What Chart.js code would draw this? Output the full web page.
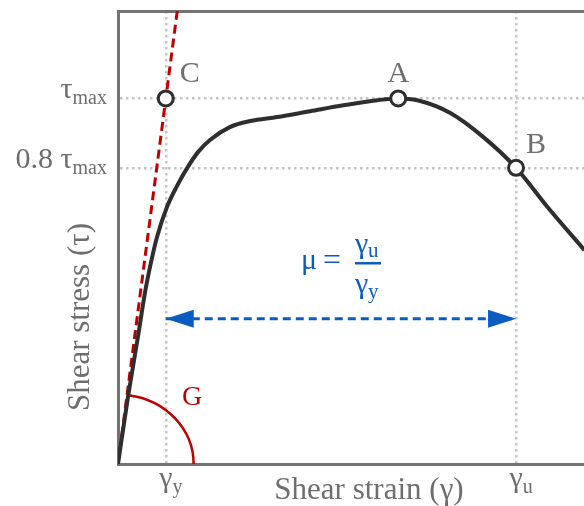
<!DOCTYPE html>
<html>
<head>
<meta charset="utf-8">
<script src="https://cdn.jsdelivr.net/npm/chart.js@4.4.1/dist/chart.umd.min.js"></script>
<style>
  html, body { margin: 0; padding: 0; background: #fff; overflow: hidden; }
  #wrap { width: 595px; height: 506px; position: relative; }
</style>
</head>
<body>
<div id="wrap"><canvas id="chart"></canvas></div>
<script>
// shear strain / shear stress curve (stress normalised to tau_max = 1)
const strain = [0, 0.25, 0.50, 0.68, 0.83, 0.98, 1.23, 1.48, 1.74, 2.01, 2.31, 2.82, 3.32, 4.00, 4.83, 5.66, 6.51, 7.04, 7.52, 8.35, 9.18, 10.0, 10.79, 11.72];
const stress = [0, 0.183, 0.347, 0.470, 0.552, 0.621, 0.703, 0.760, 0.810, 0.853, 0.886, 0.922, 0.938, 0.949, 0.965, 0.981, 0.995, 1.0, 0.995, 0.960, 0.894, 0.810, 0.703, 0.585];

// initial stiffness line (G)
const tangentStrain = [0, 1.49];
const tangentStress = [0, 1.24];

// marked points
const pointNames = ["C", "A", "B"];
const pointStrain = [1.2, 7.04, 10.0];
const pointStress = [1.0, 1.0, 0.81];

// ticks
const xTicks = [1.2, 10.0];
const xTickMain = ["γ", "γ"];
const xTickSub = ["y", "u"];
const yTicks = [0.81, 1.0];
const yTickMain = ["0.8 τ", "τ"];
const yTickSub = ["max", "max"];

// ductility arrow (gamma_y -> gamma_u)
const arrowStrain = [1.2, 10.0];
const arrowStress = [0.397, 0.397];

// G arc ends
const gArcStrain = 1.9;
const gArcStress = 0.19;

const SERIF = '"Liberation Serif", "Times New Roman", serif';
const TEXT_GRAY = "#6e6e6e";
const AXIS_GRAY = "#737373";
const GRID_GRAY = "#c4c4c4";
const RED = "#c00000";
const BLUE = "#0b5cc0";
const INK = "#2e2e2e";

const xy = (xs, ys) => xs.map((v, i) => ({ x: v, y: ys[i] }));

const drawings = {
  id: "drawings",
  beforeDatasetsDraw(chart) {
    const { ctx, scales: { x, y } } = chart;
    const ox = x.getPixelForValue(0), oy = y.getPixelForValue(0);
    const rx = x.getPixelForValue(gArcStrain) - ox;
    const ry = oy - y.getPixelForValue(gArcStress);
    ctx.save();
    ctx.strokeStyle = RED;
    ctx.lineWidth = 2.5;
    ctx.beginPath();
    ctx.ellipse(ox, oy, rx, ry, 0, -1.43, 0);
    ctx.stroke();
    ctx.restore();
  },
  afterDraw(chart) {
    const { ctx, scales: { x, y } } = chart;
    ctx.save();
    ctx.textBaseline = "alphabetic";
    ctx.fillStyle = TEXT_GRAY;

    // y tick labels
    yTicks.forEach((v, i) => {
      const py = y.getPixelForValue(v);
      ctx.textAlign = "right";
      ctx.font = `20px ${SERIF}`;
      const sw = ctx.measureText(yTickSub[i]).width;
      ctx.fillText(yTickSub[i], 107, py + 6);
      ctx.font = `30px ${SERIF}`;
      ctx.fillText(yTickMain[i], 107 - sw, py);
    });

    // x tick labels
    xTicks.forEach((v, i) => {
      const px = x.getPixelForValue(v);
      ctx.textAlign = "left";
      ctx.font = `30px ${SERIF}`;
      const mw = ctx.measureText(xTickMain[i]).width;
      ctx.fillText(xTickMain[i], px - mw / 2, 487);
      ctx.font = `20px ${SERIF}`;
      ctx.fillText(xTickSub[i], px + mw / 2, 493);
    });

    // axis titles
    ctx.font = `31px ${SERIF}`;
    ctx.textAlign = "center";
    ctx.fillText("Shear strain (γ)", 369, 499);
    ctx.save();
    ctx.translate(89, 317);
    ctx.rotate(-Math.PI / 2);
    ctx.fillText("Shear stress (τ)", 0, 0);
    ctx.restore();

    // point labels
    ctx.font = `30px ${SERIF}`;
    const offs = [[24, -16], [0, -16], [20, -15]];
    pointNames.forEach((n, i) => {
      const px = x.getPixelForValue(pointStrain[i]);
      const py = y.getPixelForValue(pointStress[i]);
      ctx.fillText(n, px + offs[i][0], py + offs[i][1]);
    });

    // G label
    ctx.fillStyle = RED;
    ctx.font = `28px ${SERIF}`;
    ctx.fillText("G", 192, 405);

    // arrow heads
    ctx.fillStyle = BLUE;
    const ay = y.getPixelForValue(arrowStress[0]);
    const ax0 = x.getPixelForValue(arrowStrain[0]);
    const ax1 = x.getPixelForValue(arrowStrain[1]);
    ctx.beginPath();
    ctx.moveTo(ax0, ay);
    ctx.lineTo(ax0 + 28, ay - 9);
    ctx.lineTo(ax0 + 28, ay + 9);
    ctx.closePath();
    ctx.fill();
    ctx.beginPath();
    ctx.moveTo(ax1, ay);
    ctx.lineTo(ax1 - 28, ay - 9);
    ctx.lineTo(ax1 - 28, ay + 9);
    ctx.closePath();
    ctx.fill();

    // ductility formula
    ctx.textAlign = "left";
    ctx.font = `30px ${SERIF}`;
    ctx.fillText("μ", 301, 269);
    ctx.font = `32px ${SERIF}`;
    ctx.fillText("=", 323, 270);
    ctx.fillRect(355, 262, 26, 2.5);
    ctx.font = `30px ${SERIF}`;
    ctx.fillText("γ", 355, 253);
    ctx.fillText("γ", 355, 293);
    ctx.font = `21px ${SERIF}`;
    ctx.fillText("u", 368, 257);
    ctx.fillText("y", 368, 298);

    ctx.restore();
  }
};

new Chart(document.getElementById("chart"), {
  type: "line",
  data: {
    datasets: [
      {
        label: "points",
        data: xy(pointStrain, pointStress),
        showLine: false,
        pointRadius: 7.5,
        pointHoverRadius: 7.5,
        pointBorderWidth: 3,
        pointBorderColor: INK,
        pointBackgroundColor: "#fff"
      },
      {
        label: "curve",
        data: xy(strain, stress),
        borderColor: INK,
        borderWidth: 4,
        cubicInterpolationMode: "monotone",
        pointRadius: 0
      },
      {
        label: "tangent",
        data: xy(tangentStrain, tangentStress),
        borderColor: RED,
        borderWidth: 3,
        borderDash: [9, 5],
        pointRadius: 0
      },
      {
        label: "ductility",
        data: xy(arrowStrain, arrowStress),
        borderColor: BLUE,
        borderWidth: 3,
        borderDash: [8, 5],
        pointRadius: 0
      }
    ]
  },
  options: {
    responsive: true,
    maintainAspectRatio: false,
    animation: false,
    layout: { padding: 0 },
    plugins: { legend: { display: false }, tooltip: { enabled: false } },
    scales: {
      x: {
        type: "linear",
        position: "bottom",
        min: 0,
        max: 11.72,
        afterBuildTicks: s => { s.ticks = xTicks.map(v => ({ value: v })); },
        afterFit: s => { s.height = 42; },
        ticks: { display: false },
        grid: { color: GRID_GRAY, lineWidth: 2.5, drawTicks: false },
        border: { color: AXIS_GRAY, width: 3, dash: [2.5, 3.5] }
      },
      xTop: {
        type: "linear",
        axis: "x",
        position: "top",
        min: 0,
        max: 1,
        afterFit: s => { s.height = 11; },
        ticks: { display: false },
        grid: { drawOnChartArea: false, drawTicks: false },
        border: { color: AXIS_GRAY, width: 3 }
      },
      y: {
        type: "linear",
        min: 0,
        max: 1.239,
        afterBuildTicks: s => { s.ticks = yTicks.map(v => ({ value: v })); },
        afterFit: s => { s.width = 118; },
        ticks: { display: false },
        grid: { color: GRID_GRAY, lineWidth: 2.5, drawTicks: false },
        border: { color: AXIS_GRAY, width: 3, dash: [2.5, 3.5] }
      }
    }
  },
  plugins: [drawings]
});
</script>
</body>
</html>
